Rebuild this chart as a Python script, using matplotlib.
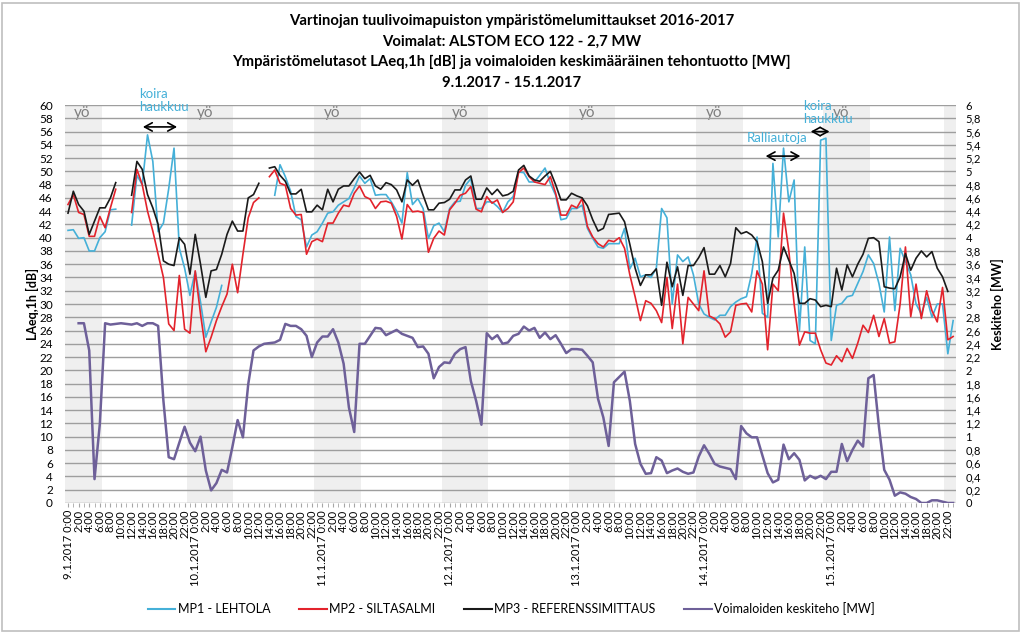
import numpy as np
import matplotlib.pyplot as plt
from matplotlib.patches import Rectangle
from matplotlib.lines import Line2D

plt.rcParams['font.family'] = ['Lato', 'DejaVu Sans']

nan = np.nan

# tuntiarvot 9.1.2017 0:00 ... 15.1.2017 23:00 (168 h)
mp1_lehtola = [
    41.1, 41.2, 39.9, 40.0, 38.0, 38.0, 40.0, 40.9, 44.2, 44.3, nan, nan,
    41.9, 49.4, 48.0, 55.5, 51.5, 40.9, 42.2, 47.4, 53.5, 38.4, 35.4, 31.3,
    34.9, 30.3, 25.0, 27.3, 29.5, 32.8, nan, nan, nan, nan, nan, nan,
    nan, nan, nan, 46.4, 51.0, 49.2, 47.0, 43.2, 42.7, 38.6, 40.4, 40.9,
    42.2, 43.7, 43.9, 44.9, 45.4, 45.9, 47.5, 49.3, 48.2, 48.9, 46.4, 46.5,
    46.5, 45.4, 44.0, 42.2, 49.8, 45.0, 45.9, 44.4, 39.9, 41.8, 42.2, 40.9,
    44.4, 45.4, 45.5, 47.9, 48.9, 44.4, 44.4, 45.4, 45.4, 44.7, 43.8, 45.4,
    46.2, 49.9, 49.8, 48.4, 48.4, 49.4, 50.5, 48.2, 46.4, 42.7, 42.9, 44.4,
    44.4, 44.9, 41.4, 39.9, 38.6, 38.4, 39.1, 39.1, 39.1, 41.4, 35.3, 36.9,
    34.1, 34.4, 34.0, 35.4, 44.4, 43.0, 30.0, 37.4, 36.4, 37.1, 34.4, 30.0,
    28.5, 28.0, 27.6, 28.3, 28.3, 29.6, 30.3, 30.8, 31.1, 34.6, 40.1, 28.6,
    28.0, 51.2, 40.1, 53.5, 45.4, 48.7, 26.0, 38.6, 24.5, 24.0, 54.7, 55.0,
    24.5, 29.8, 30.1, 31.1, 31.3, 33.1, 34.9, 37.4, 36.1, 33.1, 28.8, 40.1,
    29.0, 38.4, 36.4, 34.4, 30.0, 28.5, 31.0, 28.0, 30.0, 30.0, 22.5, 27.5,
]

mp2_siltasalmi = [
    45.0, 46.5, 43.8, 43.5, 40.2, 40.2, 43.2, 41.5, 44.5, 47.3, nan, nan,
    43.8, 50.3, 48.0, 44.0, 41.0, 37.5, 34.0, 27.0, 26.0, 34.3, 26.2, 25.6,
    35.0, 28.5, 22.8, 25.0, 27.5, 29.6, 31.5, 36.0, 31.7, 37.5, 43.0, 45.3,
    46.0, nan, 49.2, 50.2, 48.2, 47.9, 44.4, 43.4, 43.5, 37.5, 39.4, 39.8,
    39.4, 42.2, 42.2, 43.7, 44.9, 44.7, 46.7, 47.8, 46.2, 45.8, 44.4, 45.4,
    45.5, 45.2, 43.2, 39.8, 45.0, 43.9, 44.0, 43.8, 37.8, 39.9, 41.0, 40.4,
    44.2, 45.2, 46.4, 46.7, 47.7, 44.3, 43.9, 46.2, 45.2, 45.7, 43.8, 44.4,
    45.4, 49.8, 50.5, 49.2, 48.4, 48.2, 48.0, 49.2, 46.7, 43.4, 43.4, 44.9,
    44.5, 45.9, 41.7, 40.1, 39.1, 38.6, 39.6, 39.4, 40.0, 38.4, 34.4, 31.1,
    27.5, 30.5, 30.1, 29.0, 27.2, 34.0, 26.3, 33.0, 24.0, 31.0, 30.0, 29.0,
    35.0, 28.2, 27.8, 27.0, 25.0, 25.8, 29.8, 30.0, 30.1, 28.8, 35.0, 33.0,
    23.1, 33.0, 32.0, 43.7, 38.0, 30.0, 23.8, 25.8, 25.6, 25.6, 23.1, 21.1,
    20.8, 22.2, 21.3, 23.3, 21.8, 24.1, 26.8, 25.7, 28.3, 25.1, 27.8, 24.1,
    24.3, 30.0, 38.6, 28.1, 33.0, 27.8, 32.0, 29.0, 27.3, 32.5, 24.6, 25.1,
]

mp3_referenssi = [
    43.7, 47.0, 45.0, 44.0, 40.5, 42.5, 44.5, 44.5, 46.0, 48.3, nan, nan,
    46.4, 51.5, 50.3, 46.5, 44.5, 42.0, 36.5, 36.0, 35.8, 40.0, 39.0, 34.5,
    40.5, 36.0, 31.0, 35.0, 35.2, 37.5, 40.5, 42.5, 41.0, 41.0, 46.0, 46.5,
    48.2, nan, 50.5, 50.7, 49.4, 48.5, 46.6, 46.6, 47.3, 43.9, 43.9, 44.9,
    44.2, 47.3, 45.4, 47.3, 47.8, 47.8, 48.9, 49.9, 48.9, 49.4, 47.8, 47.3,
    48.3, 48.0, 47.2, 45.4, 48.7, 47.9, 48.7, 46.4, 44.2, 44.2, 45.2, 45.3,
    45.8, 47.2, 47.2, 48.7, 49.3, 45.8, 45.8, 47.5, 46.5, 47.3, 46.3, 46.5,
    47.0, 50.2, 50.9, 49.3, 48.7, 48.5, 49.3, 50.0, 48.0, 45.7, 45.7, 46.7,
    46.3, 46.0, 44.8, 42.7, 41.0, 41.4, 43.5, 43.6, 43.7, 42.4, 39.0, 35.4,
    32.8, 34.4, 34.4, 35.3, 29.8, 36.3, 32.6, 35.6, 31.3, 35.8, 35.8, 37.0,
    38.5, 34.5, 34.5, 35.8, 34.1, 36.1, 41.5, 40.6, 40.9, 40.4, 39.4, 36.4,
    30.1, 33.9, 35.1, 38.6, 36.6, 34.6, 30.1, 30.1, 30.8, 30.6, 29.6, 29.8,
    29.6, 35.4, 32.1, 35.9, 34.1, 36.0, 37.5, 39.9, 40.0, 39.4, 32.6, 32.4,
    32.3, 34.1, 37.6, 35.1, 36.9, 38.0, 37.1, 37.9, 35.4, 34.1, 31.9, nan,
]

keskiteho_mw = [
    nan, nan, 2.71, 2.71, 2.30, 0.36, 1.19, 2.71, 2.69, 2.70, 2.71, 2.70,
    2.69, 2.71, 2.67, 2.71, 2.71, 2.67, 1.54, 0.69, 0.66, 0.91, 1.15, 0.91,
    0.78, 1.00, 0.49, 0.19, 0.30, 0.50, 0.46, 0.84, 1.25, 0.99, 1.79, 2.30,
    2.36, 2.40, 2.41, 2.42, 2.46, 2.70, 2.67, 2.67, 2.62, 2.52, 2.20, 2.42,
    2.51, 2.51, 2.62, 2.42, 2.10, 1.44, 1.07, 2.40, 2.40, 2.52, 2.64, 2.63,
    2.53, 2.57, 2.61, 2.55, 2.52, 2.49, 2.35, 2.36, 2.25, 1.88, 2.05, 2.12,
    2.11, 2.25, 2.32, 2.35, 1.84, 1.54, 1.18, 2.56, 2.47, 2.53, 2.40, 2.42,
    2.52, 2.55, 2.66, 2.60, 2.64, 2.49, 2.57, 2.47, 2.53, 2.40, 2.26, 2.32,
    2.32, 2.31, 2.22, 2.12, 1.57, 1.29, 0.86, 1.82, 1.90, 1.98, 1.54, 0.89,
    0.59, 0.44, 0.45, 0.69, 0.64, 0.45, 0.49, 0.52, 0.47, 0.44, 0.46, 0.70,
    0.87, 0.74, 0.59, 0.55, 0.53, 0.51, 0.36, 1.16, 1.05, 0.99, 0.99, 0.72,
    0.45, 0.31, 0.35, 0.88, 0.66, 0.75, 0.65, 0.34, 0.41, 0.37, 0.41, 0.36,
    0.47, 0.47, 0.89, 0.63, 0.80, 0.94, 0.85, 1.88, 1.93, 1.15, 0.50, 0.35,
    0.11, 0.16, 0.14, 0.09, 0.06, 0.00, 0.00, 0.04, 0.04, 0.02, 0.00, 0.00,
]

paivat = ['9.1.2017', '10.1.2017', '11.1.2017', '12.1.2017',
          '13.1.2017', '14.1.2017', '15.1.2017']

# yöajat (tunteina alusta), harmaa tausta
yot = [(-0.5, 6.4), (22.5, 31.2), (46.5, 55.2), (70.5, 79.2),
       (94.5, 103.2), (118.5, 127.3), (142.5, 151.3), (165.3, 167.5)]

sininen = '#45B0D8'
punainen = '#E3232C'
musta = '#1A1A1A'
violetti = '#6E6099'

tunnit = np.arange(len(mp1_lehtola))

fig = plt.figure(figsize=(10.23, 6.35), dpi=100)
ax = fig.add_axes([0.0639, 0.2079, 0.8704, 0.6267])

for a, b in yot:
    ax.axvspan(a, b, color='#EFEFEF', lw=0, zorder=0)
    if b - a > 5:
        ax.text(a + 3.4 if a > 0 else 2.6, 58.8, 'yö', color='#7F7F7F',
                fontsize=11, ha='center', va='center', zorder=1)

ax.plot(tunnit, np.array(mp1_lehtola, dtype=float), color=sininen, lw=1.2, zorder=3)
ax.plot(tunnit, np.array(mp2_siltasalmi, dtype=float), color=punainen, lw=1.2, zorder=3)
ax.plot(tunnit, np.array(mp3_referenssi, dtype=float), color=musta, lw=1.2, zorder=4)

ax.set_xlim(-0.5, 167.5)
ax.set_ylim(0, 60)
ax.set_yticks(range(0, 61, 2))
ax.grid(axis='y', color='#9E9E9E', lw=1)
ax.tick_params(axis='y', length=0, labelsize=8.5, pad=9)

xt = np.arange(0, 168, 2)
xl = [(paivat[h // 24] + ' 0:00') if h % 24 == 0 else '%d:00' % (h % 24) for h in xt]
ax.set_xticks(xt)
ax.set_xticklabels(xl, rotation=90, fontsize=8, va='top')
ax.set_xticks(tunnit, minor=True)
ax.tick_params(axis='x', which='both', length=3, color='#A6A6A6', pad=2)
for s in ax.spines.values():
    s.set_visible(False)
ax.set_ylabel('LAeq,1h [dB]', fontsize=9, fontweight='bold', labelpad=0)

ax2 = ax.twinx()
ax2.plot(tunnit, np.array(keskiteho_mw, dtype=float), color=violetti, lw=1.8, zorder=3)
ax2.set_ylim(0, 6)
ax2.set_yticks(np.arange(0, 6.01, 0.2))
ax2.set_yticklabels([('%g' % round(v, 1)).replace('.', ',') for v in np.arange(0, 6.01, 0.2)])
ax2.tick_params(axis='y', length=0, labelsize=8, pad=7)
for s in ax2.spines.values():
    s.set_visible(False)
ax2.set_ylabel('Keskiteho [MW]', fontsize=9, fontweight='bold', labelpad=7)

# huomautukset
nuoli = dict(arrowstyle='<->, head_length=0.55, head_width=0.3', color='black', lw=1.2)
ax.text(13.4, 60.7, 'koira\nhaukkuu', color=sininen, fontsize=9.5, ha='left',
        va='center', linespacing=1.15, clip_on=False)
ax.annotate('', xy=(21.1, 56.7), xytext=(13.6, 56.7), arrowprops=nuoli)
ax.text(128.1, 55.0, 'Ralliautoja', color=sininen, fontsize=9.5, ha='left', va='center')
ax.annotate('', xy=(138.7, 52.3), xytext=(131.1, 52.3), arrowprops=nuoli)
ax.text(138.7, 58.9, 'koira\nhaukkuu', color=sininen, fontsize=9.5, ha='left',
        va='center', linespacing=1.15, clip_on=False, zorder=5)
ax.annotate('', xy=(144.2, 56.0), xytext=(139.6, 56.0), arrowprops=nuoli)

otsikko = ('Vartinojan tuulivoimapuiston ympäristömelumittaukset 2016-2017\n'
           'Voimalat: ALSTOM ECO 122 - 2,7 MW\n'
           'Ympäristömelutasot LAeq,1h [dB] ja voimaloiden keskimääräinen tehontuotto [MW]\n'
           '9.1.2017 - 15.1.2017')
fig.text(0.5, 0.978, otsikko, ha='center', va='top', fontsize=10.7,
         fontweight='bold', linespacing=1.6)

kahvat = [Line2D([], [], color=sininen, lw=1.5),
          Line2D([], [], color=punainen, lw=1.5),
          Line2D([], [], color=musta, lw=1.5),
          Line2D([], [], color=violetti, lw=1.5)]
fig.legend(kahvat, ['MP1 - LEHTOLA', 'MP2 - SILTASALMI', 'MP3 - REFERENSSIMITTAUS',
                    'Voimaloiden keskiteho [MW]'],
           loc='center', bbox_to_anchor=(0.5, 0.041), ncol=4, frameon=False,
           fontsize=9, handlelength=2.2, columnspacing=2.3, handletextpad=0.2)

fig.patches.append(Rectangle((0.002, 0.006), 0.994, 0.99, transform=fig.transFigure,
                             fill=False, edgecolor='#BFBFBF', lw=1.2))

fig.savefig('out.png', dpi=100)
